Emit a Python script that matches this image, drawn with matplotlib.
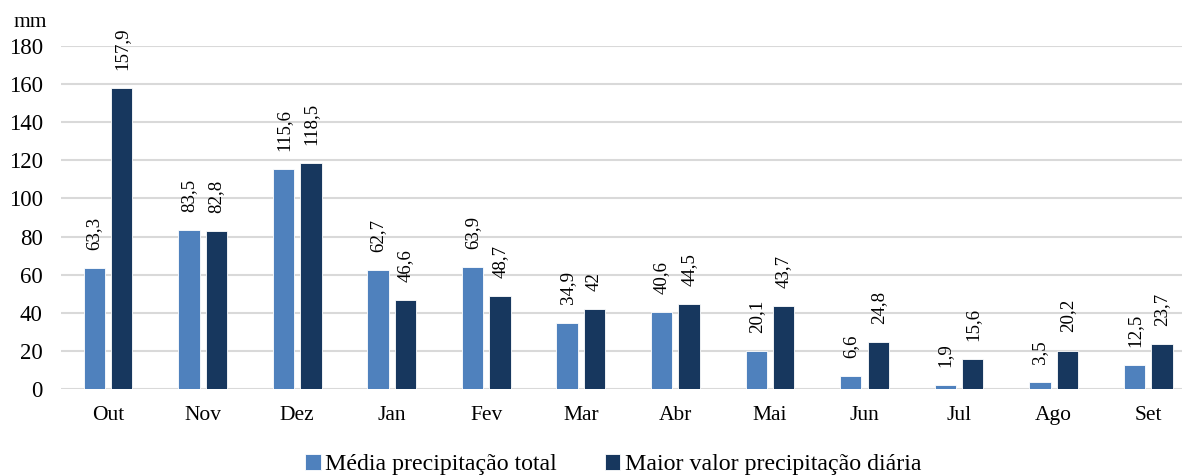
import matplotlib.pyplot as plt
import numpy as np

plt.rcParams['font.family'] = ['Liberation Serif', 'DejaVu Serif']

meses = ['Out', 'Nov', 'Dez', 'Jan', 'Fev', 'Mar', 'Abr', 'Mai', 'Jun', 'Jul', 'Ago', 'Set']
media_total = [63.3, 83.5, 115.6, 62.7, 63.9, 34.9, 40.6, 20.1, 6.6, 1.9, 3.5, 12.5]
maior_diaria = [157.9, 82.8, 118.5, 46.6, 48.7, 42, 44.5, 43.7, 24.8, 15.6, 20.2, 23.7]
yticks = [0, 20, 40, 60, 80, 100, 120, 140, 160, 180]

cor_media = '#4F81BD'
cor_maior = '#17375E'

def fmt(v):
    # comma as decimal separator, drop trailing ,0
    s = f'{v:g}'
    return s.replace('.', ',')

fig = plt.figure(figsize=(11.82, 4.75), dpi=100)
ax = fig.add_axes([0.0514, 0.181, 0.960, 0.722])

x = np.arange(len(meses))
w = 0.225
off = 0.145
b1 = ax.bar(x - off, media_total, w, color=cor_media, edgecolor='white', linewidth=0.6,
            label='Média precipitação total', zorder=3)
b2 = ax.bar(x + off, maior_diaria, w, color=cor_maior, edgecolor='white', linewidth=0.6,
            label='Maior valor precipitação diária', zorder=3)

for bars, vals in ((b1, media_total), (b2, maior_diaria)):
    for rect, v in zip(bars, vals):
        ax.annotate(fmt(v), (rect.get_x() + rect.get_width() / 2, v),
                    xytext=(0, 13), textcoords='offset points',
                    rotation=90, ha='center', va='bottom', fontsize=13.6)

ax.set_xlim(-0.5, len(meses) - 0.5)
ax.set_ylim(0, 180)
ax.set_yticks(yticks)
ax.set_xticks(x)
ax.set_xticklabels(meses)
ax.tick_params(axis='both', length=0)
ax.tick_params(axis='x', pad=12, labelsize=15.5)
ax.tick_params(axis='y', pad=13, labelsize=16.5)
ax.yaxis.grid(True, color='#D9D9D9', linewidth=1.5, zorder=0)
ax.set_axisbelow(True)
for s in ax.spines.values():
    s.set_visible(False)

fig.text(0.011, 0.952, 'mm', fontsize=15.5, ha='left', va='center')

fig.legend(loc='center', bbox_to_anchor=(0.519, 0.022), ncol=2, frameon=False,
           prop={'family': 'Liberation Serif', 'size': 17.2},
           handlelength=0.65, handleheight=0.65, handletextpad=0.2,
           columnspacing=2.0)

fig.savefig('out.png', dpi=100)
